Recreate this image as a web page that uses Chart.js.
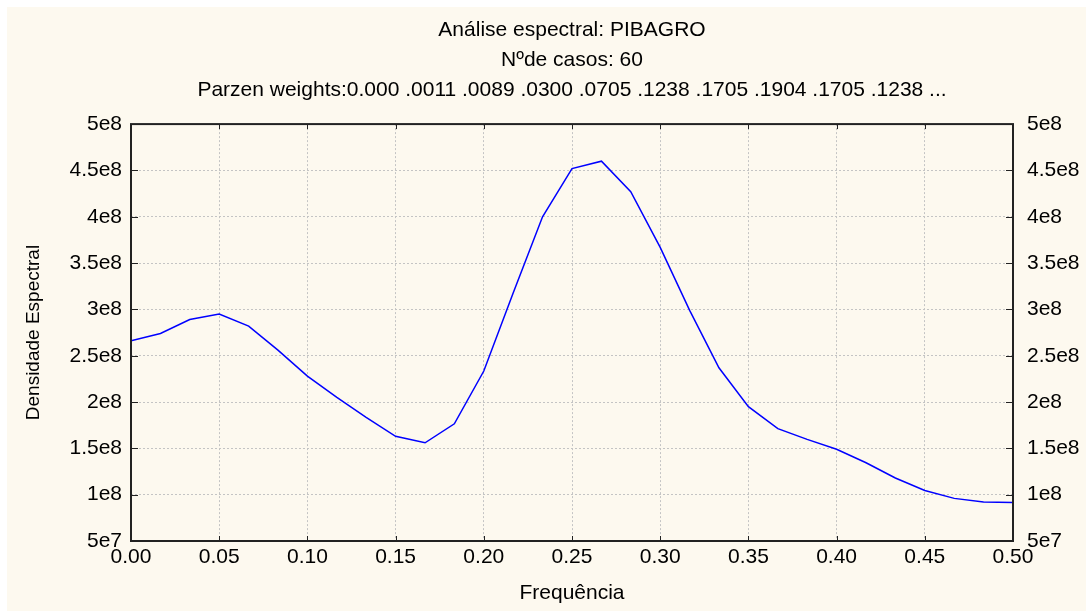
<!DOCTYPE html>
<html>
<head>
<meta charset="utf-8">
<script src="https://cdn.jsdelivr.net/npm/chart.js@4/dist/chart.umd.min.js"></script>
<style>
  html, body { margin: 0; padding: 0; background: #ffffff; }
  #wrap { position: absolute; left: 7px; top: 7px; width: 1079px; height: 604px; background: #fdf9ef; }
  canvas { display: block; }
</style>
</head>
<body>
<div id="wrap"><canvas id="c"></canvas></div>
<script>
// ---- data ----
const frequencies = [0.0000, 0.0167, 0.0333, 0.0500, 0.0667, 0.0833, 0.1000, 0.1167, 0.1333, 0.1500,
                     0.1667, 0.1833, 0.2000, 0.2167, 0.2333, 0.2500, 0.2667, 0.2833, 0.3000, 0.3167,
                     0.3333, 0.3500, 0.3667, 0.3833, 0.4000, 0.4167, 0.4333, 0.4500, 0.4667, 0.4833, 0.5000];
const spectralDensity = [2.66e8, 2.74e8, 2.89e8, 2.95e8, 2.82e8, 2.56e8, 2.28e8, 2.05e8, 1.835e8, 1.63e8,
                         1.56e8, 1.765e8, 2.335e8, 3.18e8, 4.00e8, 4.52e8, 4.60e8, 4.27e8, 3.67e8, 2.99e8,
                         2.37e8, 1.95e8, 1.713e8, 1.597e8, 1.49e8, 1.345e8, 1.18e8, 1.046e8, 0.96e8, 0.92e8, 0.915e8];
const xTickValues = [0, 0.05, 0.10, 0.15, 0.20, 0.25, 0.30, 0.35, 0.40, 0.45, 0.50];
const xTickLabels = ['0.00', '0.05', '0.10', '0.15', '0.20', '0.25', '0.30', '0.35', '0.40', '0.45', '0.50'];
const yTickValues = [5e7, 1e8, 1.5e8, 2e8, 2.5e8, 3e8, 3.5e8, 4e8, 4.5e8, 5e8];
const yTickLabels = ['5e7', '1e8', '1.5e8', '2e8', '2.5e8', '3e8', '3.5e8', '4e8', '4.5e8', '5e8'];
const titleLines = ['Análise espectral: PIBAGRO', 'Nºde casos: 60',
                    'Parzen weights:0.000 .0011 .0089 .0300 .0705 .1238 .1705 .1904 .1705 .1238 ...'];
const xAxisTitle = 'Frequência';
const yAxisTitle = 'Densidade Espectral';

const FONT = '"Liberation Sans", Arial, Helvetica, sans-serif';
const TEXT = '#000000';
const GRID = '#c4c4c4';

const points = frequencies.map((f, i) => ({ x: f, y: spectralDensity[i] }));

const setTicks = (values) => (scale) => { scale.ticks = values.map(v => ({ value: v })); };

const framePlugin = {
  id: 'frame',
  beforeDatasetsDraw(chart) {
    const { ctx, chartArea: a, scales } = chart;
    ctx.save();
    ctx.strokeStyle = '#222222';
    ctx.lineWidth = 1;
    ctx.setLineDash([]);
    ctx.beginPath();
    const L = 7;
    scales.y.ticks.forEach(t => {
      const py = Math.round(scales.y.getPixelForValue(t.value)) + 0.5;
      ctx.moveTo(a.left, py); ctx.lineTo(a.left + L, py);
      ctx.moveTo(a.right - L, py); ctx.lineTo(a.right, py);
    });
    scales.x.ticks.forEach(t => {
      const px = Math.round(scales.x.getPixelForValue(t.value)) + 0.5;
      ctx.moveTo(px, a.bottom); ctx.lineTo(px, a.bottom - L + 2);
      ctx.moveTo(px, a.top); ctx.lineTo(px, a.top + L - 2);
    });
    ctx.stroke();
    ctx.restore();
  },
  afterDraw(chart) {
    const { ctx, chartArea: a } = chart;
    ctx.save();
    ctx.setLineDash([]);
    ctx.strokeStyle = '#222222';
    ctx.lineWidth = 2;
    ctx.strokeRect(a.left, a.top, a.right - a.left, a.bottom - a.top);
    ctx.restore();
  }
};

new Chart(document.getElementById('c'), {
  type: 'line',
  data: {
    datasets: [{
      data: points,
      borderColor: '#0000ff',
      borderWidth: 1.5,
      pointRadius: 0,
      tension: 0,
      fill: false
    }]
  },
  options: {
    responsive: true,
    maintainAspectRatio: false,
    animation: false,
    layout: { padding: 0 },
    plugins: {
      legend: { display: false },
      tooltip: { enabled: false },
      title: {
        display: true,
        fullSize: false,
        text: titleLines,
        color: TEXT,
        font: { family: FONT, size: 21, weight: 'normal', lineHeight: 1.43 },
        padding: { top: 8, bottom: 19 }
      }
    },
    scales: {
      x: {
        type: 'linear',
        position: 'bottom',
        min: 0, max: 0.5,
        afterBuildTicks: setTicks(xTickValues),
        afterFit: (s) => { s.height = 70; },
        border: { display: false, dash: [2, 2] },
        grid: { color: GRID, lineWidth: 1, drawTicks: false },
        ticks: {
          padding: 4,
          color: TEXT,
          font: { family: FONT, size: 21 },
          maxRotation: 0,
          autoSkip: false,
          callback: (v, i) => xTickLabels[i]
        },
        title: {
          display: true,
          text: xAxisTitle,
          color: TEXT,
          font: { family: FONT, size: 21 },
          padding: { top: 0, bottom: 5 }
        }
      },
      y: {
        type: 'linear',
        position: 'left',
        min: 5e7, max: 5e8,
        afterBuildTicks: setTicks(yTickValues),
        afterFit: (s) => { s.width = 124; },
        border: { display: false, dash: [2, 2] },
        grid: { color: GRID, lineWidth: 1, drawTicks: false },
        ticks: {
          padding: 9,
          color: TEXT,
          font: { family: FONT, size: 21 },
          autoSkip: false,
          callback: (v, i) => yTickLabels[i]
        },
        title: {
          display: true,
          text: yAxisTitle,
          color: TEXT,
          font: { family: FONT, size: 19 },
          padding: { top: 15, bottom: 0 }
        }
      },
      y2: {
        type: 'linear',
        position: 'right',
        min: 5e7, max: 5e8,
        afterBuildTicks: setTicks(yTickValues),
        afterFit: (s) => { s.width = 73; },
        border: { display: false },
        grid: { display: false, drawTicks: false },
        ticks: {
          padding: 14,
          color: TEXT,
          font: { family: FONT, size: 21 },
          autoSkip: false,
          callback: (v, i) => yTickLabels[i]
        }
      }
    }
  },
  plugins: [framePlugin]
});
</script>
</body>
</html>
